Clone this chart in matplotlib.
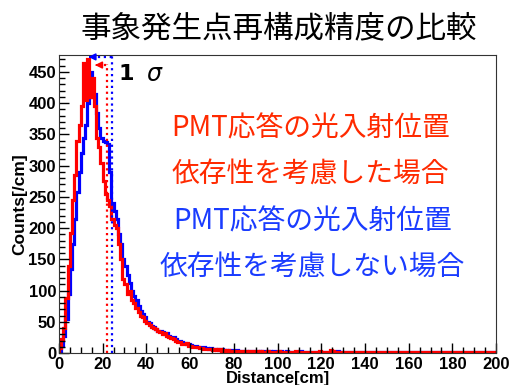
# 事象発生点再構成精度の比較 -- red vs blue distance histograms
import numpy as np
import matplotlib
matplotlib.use("Agg")
import matplotlib.pyplot as plt

# counts per 1 cm bin, 0..200 cm
red_counts = [
    8, 22, 40, 88, 140, 192, 245, 285, 340, 365,
    395, 465, 405, 470, 410, 440, 395, 345, 330, 305,
    275, 255, 245, 235, 215, 205, 200, 175, 150, 118,
    110, 95, 100, 85, 80, 72, 65, 60, 58, 52,
    48, 45, 42, 40, 38, 36, 34, 30, 32, 28,
    26, 24, 22, 20, 18, 17, 15, 14, 16, 12,
    11, 10, 9, 10, 8, 8, 7, 7, 6, 7,
    5, 6, 5, 6, 4, 5, 4, 5, 4, 3,
    4, 3, 4, 3, 3, 4, 2, 3, 3, 2,
    3, 2, 3, 2, 2, 3, 2, 2, 1, 2,
    3, 2, 2, 1, 2, 2, 1, 2, 3, 2,
    1, 2, 2, 1, 2, 2, 1, 1, 2, 3,
    2, 1, 2, 1, 5, 3, 2, 1, 2, 1,
    2, 1, 1, 2, 1, 2, 1, 1, 2, 1,
    1, 2, 1, 1, 2, 1, 1, 1, 2, 1,
    1, 2, 1, 1, 1, 2, 1, 1, 2, 1,
    1, 1, 2, 1, 1, 2, 1, 1, 1, 2,
    1, 1, 1, 2, 1, 1, 1, 1, 2, 1,
    1, 1, 2, 1, 1, 1, 1, 2, 1, 1,
    1, 1, 1, 2, 1, 1, 1, 1, 1, 1,
]
blue_counts = [
    3, 12, 28, 55, 95, 135, 175, 215, 258, 290,
    320, 345, 365, 400, 450, 410, 415, 385, 360, 345,
    340, 338, 335, 290, 240, 228, 215, 190, 175, 150,
    140, 125, 112, 100, 92, 85, 75, 68, 62, 58,
    50, 48, 44, 42, 38, 36, 35, 33, 30, 32,
    28, 26, 25, 22, 20, 19, 18, 16, 15, 14,
    13, 12, 11, 10, 10, 9, 9, 8, 7, 8,
    7, 6, 6, 5, 6, 5, 5, 4, 5, 4,
    4, 5, 3, 4, 4, 3, 4, 3, 3, 4,
    3, 3, 2, 3, 3, 2, 3, 2, 3, 2,
    2, 3, 2, 2, 3, 2, 2, 1, 2, 2,
    3, 2, 1, 2, 2, 1, 2, 2, 1, 2,
    2, 1, 2, 2, 1, 2, 1, 3, 2, 1,
    2, 1, 2, 1, 2, 2, 1, 2, 1, 1,
    2, 1, 2, 1, 1, 2, 1, 2, 1, 1,
    2, 1, 1, 2, 1, 1, 2, 1, 1, 2,
    1, 1, 2, 1, 1, 1, 2, 1, 1, 1,
    2, 1, 1, 1, 2, 1, 1, 1, 1, 2,
    1, 1, 1, 1, 2, 1, 1, 1, 1, 1,
    2, 1, 1, 1, 1, 1, 1, 2, 1, 1,
]
bin_edges = np.arange(0, 201, 1)

red_sigma = 21.8
blue_sigma = 24.4
red_peak_x = 16.5
blue_peak_x = 13.5

title = "事象発生点再構成精度の比較"
red_lines = ["PMT応答の光入射位置", "依存性を考慮した場合"]
blue_lines = ["PMT応答の光入射位置", "依存性を考慮しない場合"]

RED = "#ff0000"
BLUE = "#0000ff"
RED_TXT = "#ff2a00"
BLUE_TXT = "#1a3cff"
cjk = ["Noto Sans CJK JP", "DejaVu Sans"]
tickfont = "Liberation Sans"

fig = plt.figure(figsize=(5.12, 3.85), dpi=100)
ax = fig.add_axes([0.115, 0.083, 0.854, 0.774])

ax.stairs(blue_counts, bin_edges, color=BLUE, lw=2.3)
ax.stairs(red_counts, bin_edges, color=RED, lw=2.3)

ax.set_xlim(0, 200)
ax.set_ylim(0, 477)

# 1 sigma markers
ax.plot([red_sigma, red_sigma], [0, 462], color=RED, ls=":", lw=1.6)
ax.plot([blue_sigma, blue_sigma], [0, 477], color=BLUE, ls=":", lw=1.6)
ax.plot([red_peak_x + 1.5, red_sigma], [461, 461], color=RED, ls=":", lw=1.6)
ax.plot([blue_peak_x + 1.5, blue_sigma], [474, 474], color=BLUE, ls=":", lw=1.6)
ax.annotate("", xy=(red_peak_x, 461), xytext=(red_peak_x + 2.2, 461),
            arrowprops=dict(arrowstyle="-|>", color=RED, lw=1.2, mutation_scale=10))
ax.annotate("", xy=(blue_peak_x, 474), xytext=(blue_peak_x + 2.2, 474),
            arrowprops=dict(arrowstyle="-|>", color=BLUE, lw=1.2, mutation_scale=10))
ax.text(31, 446, "1", fontsize=16, fontweight="bold", family="DejaVu Sans",
        va="center", ha="center")
ax.text(44, 446, r"$\sigma$", fontsize=17, va="center", ha="center")

ax.set_xticks(np.arange(0, 201, 20))
ax.set_xticks(np.arange(0, 201, 5), minor=True)
ax.set_yticks(np.arange(0, 451, 50))
ax.set_yticks(np.arange(0, 471, 10), minor=True)
ax.tick_params(which="both", direction="in", top=False, right=False)
ax.tick_params(which="major", length=7, width=1)
ax.tick_params(which="minor", length=4, width=1)
for lab in ax.get_xticklabels() + ax.get_yticklabels():
    lab.set_family(tickfont)
    lab.set_fontweight("bold")
    lab.set_fontsize(12)
ax.tick_params(axis="x", pad=3)
ax.tick_params(axis="y", pad=2)
ax.set_xlabel("Distance[cm]", family=tickfont, fontweight="bold", fontsize=12, labelpad=-1)
ax.set_ylabel("Counts[/cm]", family=tickfont, fontweight="bold", fontsize=12.5, labelpad=1)
for sp in ax.spines.values():
    sp.set_color("#333333")

fig.text(0.545, 0.925, title, family=cjk, fontsize=22, ha="center", va="center")

ys = [0.667, 0.546, 0.426, 0.304]
for txt, y in zip(red_lines, ys[:2]):
    fig.text(0.607, y, txt, family=cjk, fontsize=20, color=RED_TXT, ha="center", va="center")
for txt, y in zip(blue_lines, ys[2:]):
    fig.text(0.61, y, txt, family=cjk, fontsize=20, color=BLUE_TXT, ha="center", va="center")

fig.savefig("out.png", dpi=100)
